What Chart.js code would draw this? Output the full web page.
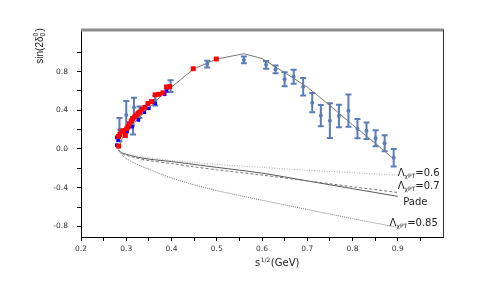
<!DOCTYPE html>
<html>
<head>
<meta charset="utf-8">
<script src="https://cdn.jsdelivr.net/npm/chart.js@4.4.0/dist/chart.umd.min.js"></script>
<style>
html, body { margin: 0; padding: 0; background: #fff; }
</style>
</head>
<body>
<canvas id="chart" width="498" height="291"></canvas>
<script>
// axis ticks
const xTicks = [0.2, 0.25, 0.3, 0.35, 0.4, 0.45, 0.5, 0.55, 0.6, 0.65, 0.7, 0.75, 0.8, 0.85, 0.9, 0.95];
const xTickLabels = ["0.2", "0.3", "0.4", "0.5", "0.6", "0.7", "0.8", "0.9"];
const yTicks = [-0.8, -0.6, -0.4, -0.2, 0.0, 0.2, 0.4, 0.6, 0.8, 1.0];
const yTickLabels = ["-0.8", "-0.4", "0.0", "0.4", "0.8"];

// experimental points with error bars
const ebX = [0.285, 0.300, 0.315, 0.317, 0.329, 0.364, 0.398, 0.479, 0.560, 0.609, 0.630, 0.650, 0.670, 0.691, 0.711, 0.730, 0.750, 0.770, 0.791, 0.811, 0.831, 0.851, 0.871, 0.891];
const ebY = [0.20, 0.35, 0.24, 0.43, 0.38, 0.50, 0.65, 0.878, 0.92, 0.87, 0.824, 0.72, 0.747, 0.644, 0.479, 0.345, 0.293, 0.341, 0.396, 0.21, 0.189, 0.11, 0.059, -0.09];
const ebErr = [0.12, 0.145, 0.09, 0.10, 0.06, 0.05, 0.06, 0.035, 0.035, 0.04, 0.04, 0.072, 0.072, 0.09, 0.10, 0.11, 0.18, 0.117, 0.167, 0.10, 0.086, 0.083, 0.083, 0.09];

// red squares
const redX = [0.283, 0.283, 0.286, 0.290, 0.294, 0.298, 0.301, 0.304, 0.307, 0.311, 0.314, 0.318, 0.322, 0.326, 0.330, 0.335, 0.341, 0.348, 0.356, 0.364, 0.372, 0.381, 0.389, 0.396, 0.448, 0.499];
const redY = [0.03, 0.13, 0.15, 0.18, 0.19, 0.14, 0.21, 0.23, 0.26, 0.29, 0.31, 0.33, 0.35, 0.37, 0.38, 0.41, 0.43, 0.47, 0.49, 0.56, 0.565, 0.58, 0.64, 0.645, 0.83, 0.93];

// small blue squares
const blueX = [0.279, 0.279, 0.282, 0.302, 0.313, 0.327, 0.340, 0.350, 0.364, 0.385, 0.389];
const blueY = [0.04, 0.12, 0.09, 0.18, 0.23, 0.30, 0.38, 0.42, 0.47, 0.565, 0.60];

// fitted curve through the data
const fitX = [0.283, 0.29, 0.30, 0.32, 0.34, 0.36, 0.38, 0.40, 0.45, 0.50, 0.56, 0.60, 0.65, 0.70, 0.75, 0.80, 0.85, 0.89];
const fitY = [0.0, 0.1, 0.17, 0.28, 0.38, 0.47, 0.56, 0.64, 0.83, 0.93, 0.985, 0.935, 0.79, 0.64, 0.45, 0.25, 0.06, -0.1];

// lower curves
const lowX = [0.283, 0.29, 0.30, 0.32, 0.35, 0.40, 0.45, 0.50, 0.60, 0.70, 0.80, 0.90];
const lam06 = [-0.01, -0.035, -0.05, -0.07, -0.09, -0.12, -0.14, -0.16, -0.19, -0.22, -0.245, -0.27];
const lam07 = [-0.01, -0.045, -0.065, -0.09, -0.12, -0.15, -0.185, -0.215, -0.27, -0.33, -0.39, -0.45];
const pade = [-0.01, -0.04, -0.055, -0.08, -0.105, -0.13, -0.16, -0.19, -0.25, -0.33, -0.41, -0.49];
const lam085 = [-0.01, -0.06, -0.10, -0.15, -0.21, -0.30, -0.37, -0.43, -0.53, -0.625, -0.72, -0.81];

function pts(xs, ys) {
  return xs.map((x, i) => ({ x: x, y: ys[i] }));
}

function curve(label, ys, color, dash) {
  return {
    label: label,
    data: pts(lowX, ys),
    showLine: true,
    borderColor: color,
    borderWidth: 1,
    borderDash: dash,
    pointRadius: 0,
    tension: 0.3,
  };
}

// curve name labels, anchored in data units
const curveLabels = [
  { sym: "Λ", sub: "χPT", rest: "=0.6", x: 0.9, y: -0.284 },
  { sym: "Λ", sub: "χPT", rest: "=0.7", x: 0.9, y: -0.413 },
  { sym: "", sub: "", rest: "Pade", x: 0.912, y: -0.584 },
  { sym: "Λ", sub: "χPT", rest: "=0.85", x: 0.882, y: -0.796 },
];

const FONT = "'DejaVu Sans', sans-serif";

const extras = {
  id: "extras",
  beforeDatasetsDraw(chart) {
    const ctx = chart.ctx;
    const xs = chart.scales.x, ys = chart.scales.y;
    ctx.save();
    ctx.strokeStyle = "#5a7db8";
    ctx.lineWidth = 2;
    ebX.forEach((x, i) => {
      const px = xs.getPixelForValue(x);
      const top = ys.getPixelForValue(ebY[i] + ebErr[i]);
      const bot = ys.getPixelForValue(ebY[i] - ebErr[i]);
      ctx.beginPath();
      ctx.moveTo(px, top);
      ctx.lineTo(px, bot);
      ctx.moveTo(px - 3, top);
      ctx.lineTo(px + 3, top);
      ctx.moveTo(px - 3, bot);
      ctx.lineTo(px + 3, bot);
      ctx.stroke();
    });
    ctx.restore();
  },
  afterDraw(chart) {
    const ctx = chart.ctx;
    const a = chart.chartArea;
    const xs = chart.scales.x, ys = chart.scales.y;
    ctx.save();
    // frame: top and right
    ctx.strokeStyle = "#8c8c8c";
    ctx.lineWidth = 3;
    ctx.beginPath();
    ctx.moveTo(a.left, a.top);
    ctx.lineTo(a.right + 1, a.top);
    ctx.stroke();
    ctx.strokeStyle = "#333";
    ctx.lineWidth = 1;
    ctx.beginPath();
    ctx.moveTo(a.right + 0.5, a.top);
    ctx.lineTo(a.right + 0.5, a.bottom);
    ctx.stroke();

    ctx.fillStyle = "#222";
    ctx.textBaseline = "alphabetic";
    ctx.textAlign = "left";

    // x axis title
    let x = 255, y = 265.5;
    ctx.font = "10px " + FONT;
    ctx.fillText("s", x, y);
    x += ctx.measureText("s").width;
    ctx.font = "6px " + FONT;
    ctx.fillText("1/2", x + 0.5, y - 4);
    x += ctx.measureText("1/2").width + 1;
    ctx.font = "10px " + FONT;
    ctx.fillText("(GeV)", x, y);

    // y axis title, rotated
    const f1 = "10px 'Liberation Sans', sans-serif";
    const f2 = "7px 'Liberation Sans', sans-serif";
    ctx.save();
    ctx.translate(43, 46);
    ctx.rotate(-Math.PI / 2);
    ctx.font = f1;
    const w1 = ctx.measureText("sin(2δ").width;
    const w3 = ctx.measureText(")").width;
    ctx.font = f2;
    const w2 = ctx.measureText("0").width;
    let tx = -(w1 + w2 + 1 + w3) / 2;
    ctx.font = f1;
    ctx.fillText("sin(2δ", tx, 0);
    tx += w1;
    ctx.font = f2;
    ctx.fillText("0", tx, 2);
    ctx.fillText("0", tx, -5);
    tx += w2 + 1;
    ctx.font = f1;
    ctx.fillText(")", tx, 0);
    ctx.restore();

    // curve labels
    curveLabels.forEach((l) => {
      let lx = xs.getPixelForValue(l.x);
      const ly = ys.getPixelForValue(l.y);
      ctx.font = "10px " + FONT;
      if (l.sym) {
        ctx.fillText(l.sym, lx, ly);
        lx += ctx.measureText(l.sym).width;
        ctx.font = "6px " + FONT;
        ctx.fillText(l.sub, lx, ly + 2);
        lx += ctx.measureText(l.sub).width;
        ctx.font = "10px " + FONT;
      }
      ctx.fillText(l.rest, lx, ly);
    });
    ctx.restore();
  },
};

new Chart(document.getElementById("chart"), {
  type: "scatter",
  data: {
    datasets: [
      {
        label: "red",
        data: pts(redX, redY),
        pointStyle: "rect",
        pointRadius: 3.5,
        pointBackgroundColor: "#ff0000",
        pointBorderWidth: 0,
      },
      {
        label: "blue",
        data: pts(blueX, blueY),
        pointStyle: "rect",
        pointRadius: 2.5,
        pointBackgroundColor: "#0000ff",
        pointBorderWidth: 0,
      },
      {
        label: "exp",
        data: pts(ebX, ebY),
        pointStyle: "circle",
        pointRadius: 2,
        pointBackgroundColor: "#5a7db8",
        pointBorderWidth: 0,
      },
      {
        label: "fit",
        data: pts(fitX, fitY),
        showLine: true,
        borderColor: "#777",
        borderWidth: 1,
        pointRadius: 0,
        tension: 0,
      },
      curve("L0.6", lam06, "#aaa", [1, 1.5]),
      curve("L0.7", lam07, "#777", [3, 2]),
      curve("Pade", pade, "#555", []),
      curve("L0.85", lam085, "#777", [1, 1]),
    ],
  },
  options: {
    responsive: false,
    animation: false,
    devicePixelRatio: 1,
    layout: { padding: { left: 0, top: 30, right: 55, bottom: 0 } },
    plugins: {
      legend: { display: false },
      tooltip: { enabled: false },
    },
    scales: {
      x: {
        type: "linear",
        min: 0.2,
        max: 1.0,
        afterBuildTicks: (s) => { s.ticks = xTicks.map((v) => ({ value: v })); },
        afterFit: (s) => { s.height = 54; },
        border: { color: "#000", width: 1 },
        grid: { drawOnChartArea: false, tickLength: 4, tickColor: "#000" },
        ticks: {
          font: { family: FONT, size: 7.5 },
          color: "#333",
          padding: 4,
          maxRotation: 0,
          autoSkip: false,
          callback: (v) => (xTickLabels.includes(v.toFixed(1)) && Math.abs(v * 10 - Math.round(v * 10)) < 1e-6 ? v.toFixed(1) : ""),
        },
      },
      y: {
        type: "linear",
        min: -0.91,
        max: 1.23,
        afterBuildTicks: (s) => { s.ticks = yTicks.map((v) => ({ value: v })); },
        afterFit: (s) => { s.width = 81; },
        border: { color: "#000", width: 1 },
        grid: { drawOnChartArea: false, tickLength: 4, tickColor: "#000" },
        ticks: {
          font: { family: FONT, size: 7.5 },
          color: "#333",
          padding: 9,
          autoSkip: false,
          callback: (v) => (yTickLabels.includes(v.toFixed(1)) ? v.toFixed(1) : ""),
        },
      },
    },
  },
  plugins: [extras],
});
</script>
</body>
</html>
